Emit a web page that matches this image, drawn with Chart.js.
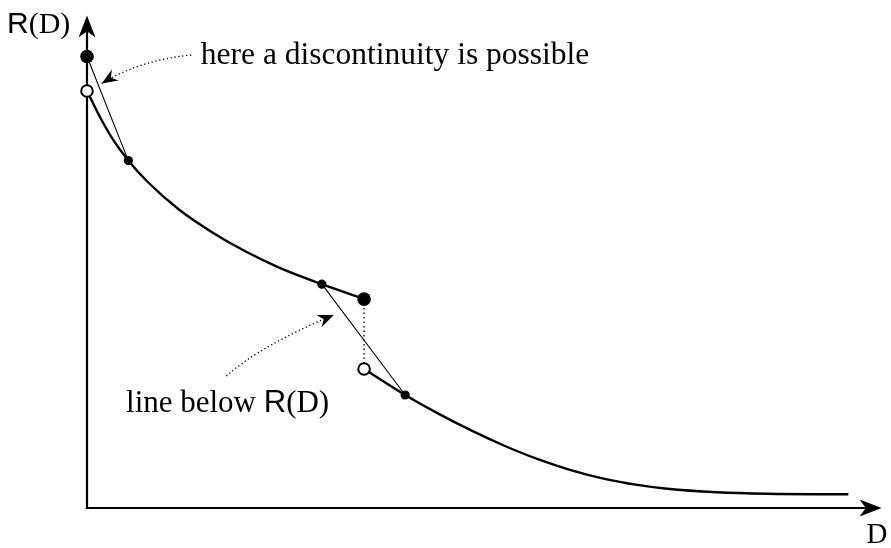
<!DOCTYPE html>
<html>
<head>
<meta charset="utf-8">
<script src="https://cdn.jsdelivr.net/npm/chart.js@4/dist/chart.umd.min.js"></script>
<style>
  html, body { margin: 0; padding: 0; background: #fff; }
  #wrap { width: 891px; height: 548px; position: relative; }
</style>
</head>
<body>
<div id="wrap"><canvas id="rd"></canvas></div>
<script>
// Rate-distortion curve, branch before the jump
const upperD = [0, 0.1625, 0.325, 0.519, 0.75, 1.1625, 1.575, 2.0, 2.4125, 2.95, 3.48];
const upperR = [8.34, 7.82, 7.372, 6.948, 6.54, 5.96, 5.512, 5.124, 4.808, 4.476, 4.178];
// Branch after the jump
const lowerD = [3.48, 3.996, 4.4125, 4.825, 5.25, 5.6625, 6.075, 6.5, 6.9125, 7.2875, 7.9125, 8.5375, 9.5625];
const lowerR = [2.78, 2.26, 1.888, 1.552, 1.24, 0.976, 0.758, 0.584, 0.462, 0.384, 0.314, 0.284, 0.274];

// Marked points
const bigDotD = [0, 3.48];
const bigDotR = [9.03, 4.178];
const smallDotD = [0.519, 2.95, 3.996];
const smallDotR = [6.948, 4.476, 2.26];
const openD = [0, 3.48];
const openR = [8.34, 2.78];

// Thin chords lying below R(D)
const chordFirstD = [0, 0.519];
const chordFirstR = [9.03, 6.948];
const chordSecondD = [2.95, 3.996];
const chordSecondR = [4.476, 2.26];

// Dotted drop at the jump
const jumpD = [3.48, 3.48];
const jumpR = [4.178, 2.78];

// Axis extents (arrow tips)
const axisMaxD = 9.98;
const axisMaxR = 9.85;

const pts = (xs, ys) => xs.map((x, i) => ({ x, y: ys[i] }));

const SERIF = '"Liberation Serif", "DejaVu Serif", serif';
const SANS = '"Liberation Sans", "DejaVu Sans", sans-serif';

// Annotations: text runs placed in data coordinates, with a dotted curved arrow
const notes = [
  {
    runs: [{ t: 'here a discontinuity is possible', f: SERIF }],
    size: 31.5,
    at: [1.43, 8.89],
    from: [1.31, 9.06], ctrl: [0.66, 8.96], to: [0.184, 8.49]
  },
  {
    runs: [{ t: 'line below ', f: SERIF }, { t: 'R', f: SANS }, { t: '(D)', f: SERIF }],
    size: 31,
    at: [0.49, 1.93],
    from: [1.75, 2.64], ctrl: [2.19, 3.26], to: [3.10, 3.86]
  }
];

function stealth(ctx, tx, ty, dx, dy, L, W, inset) {
  const n = Math.hypot(dx, dy); dx /= n; dy /= n;
  const px = -dy, py = dx;
  ctx.beginPath();
  ctx.moveTo(tx, ty);
  ctx.lineTo(tx - L * dx + W * px, ty - L * dy + W * py);
  ctx.lineTo(tx - inset * L * dx, ty - inset * L * dy);
  ctx.lineTo(tx - L * dx - W * px, ty - L * dy - W * py);
  ctx.closePath();
  ctx.fill();
}

function drawRuns(ctx, runs, x, y, size) {
  ctx.textBaseline = 'alphabetic';
  ctx.textAlign = 'left';
  for (const r of runs) {
    ctx.font = size + 'px ' + r.f;
    ctx.fillText(r.t, x, y);
    x += ctx.measureText(r.t).width;
  }
}

const axesPlugin = {
  id: 'axesArrows',
  beforeDatasetsDraw(chart) {
    const { ctx, scales: { x, y } } = chart;
    const ox = x.getPixelForValue(0), oy = y.getPixelForValue(0);
    const tipX = x.getPixelForValue(axisMaxD), tipY = y.getPixelForValue(axisMaxR);
    ctx.save();
    ctx.strokeStyle = '#000';
    ctx.fillStyle = '#000';
    ctx.lineWidth = 2.2;
    ctx.lineCap = 'square';
    ctx.beginPath();
    ctx.moveTo(ox, tipY + 14);
    ctx.lineTo(ox, oy);
    ctx.lineTo(tipX - 14, oy);
    ctx.stroke();
    stealth(ctx, ox, tipY, 0, -1, 22, 8.5, 0.72);
    stealth(ctx, tipX, oy, 1, 0, 22, 8.5, 0.72);
    ctx.restore();
  },
  afterDraw(chart) {
    const { ctx, scales: { x, y } } = chart;
    const ox = x.getPixelForValue(0), oy = y.getPixelForValue(0);
    const tipX = x.getPixelForValue(axisMaxD), tipY = y.getPixelForValue(axisMaxR);
    ctx.save();
    ctx.fillStyle = '#000';
    // axis titles
    drawRuns(ctx, [{ t: 'R', f: SANS }, { t: '(D)', f: SERIF }], ox - 80, tipY + 17, 30);
    drawRuns(ctx, [{ t: 'D', f: SERIF }], tipX - 15, oy + 35, 29);

    // annotations
    for (const nt of notes) {
      const p0 = [x.getPixelForValue(nt.from[0]), y.getPixelForValue(nt.from[1])];
      const c = [x.getPixelForValue(nt.ctrl[0]), y.getPixelForValue(nt.ctrl[1])];
      const p2 = [x.getPixelForValue(nt.to[0]), y.getPixelForValue(nt.to[1])];
      ctx.save();
      ctx.lineWidth = 1.3;
      ctx.setLineDash([1.3, 2.6]);
      ctx.beginPath();
      ctx.moveTo(p0[0], p0[1]);
      ctx.quadraticCurveTo(c[0], c[1], p2[0], p2[1]);
      ctx.stroke();
      ctx.restore();
      stealth(ctx, p2[0], p2[1], p2[0] - c[0], p2[1] - c[1], 16, 6.5, 0.68);
      drawRuns(ctx, nt.runs, x.getPixelForValue(nt.at[0]), y.getPixelForValue(nt.at[1]), nt.size);
    }
    ctx.restore();
  }
};

const lineBase = { showLine: true, pointRadius: 0, borderColor: '#000', clip: false, fill: false };
const dotBase = { showLine: false, borderColor: '#000', pointStyle: 'circle', clip: false, pointHoverRadius: 0 };

new Chart(document.getElementById('rd'), {
  type: 'scatter',
  data: {
    datasets: [
      { ...dotBase, data: pts(bigDotD, bigDotR), pointRadius: 6.8, backgroundColor: '#000', pointBorderWidth: 0, order: 0 },
      { ...dotBase, data: pts(smallDotD, smallDotR), pointRadius: 4.6, backgroundColor: '#000', pointBorderWidth: 0, order: 0 },
      { ...dotBase, data: pts(openD, openR), pointRadius: 5.8, backgroundColor: '#fff', pointBorderWidth: 2, order: 0 },
      { ...lineBase, data: pts(upperD, upperR), borderWidth: 2.4, cubicInterpolationMode: 'monotone', order: 2 },
      { ...lineBase, data: pts(lowerD, lowerR), borderWidth: 2.4, cubicInterpolationMode: 'monotone', order: 2 },
      { ...lineBase, data: pts(chordFirstD, chordFirstR), borderWidth: 1.1, order: 3 },
      { ...lineBase, data: pts(chordSecondD, chordSecondR), borderWidth: 1.1, order: 3 },
      { ...lineBase, data: pts(jumpD, jumpR), borderWidth: 1.3, borderDash: [1.3, 3.2], order: 3 }
    ]
  },
  options: {
    responsive: true,
    maintainAspectRatio: false,
    animation: false,
    events: [],
    layout: { padding: { left: 87, right: 4, top: 8, bottom: 40 } },
    scales: {
      x: { type: 'linear', min: 0, max: 10, display: false },
      y: { type: 'linear', min: 0, max: 10, display: false }
    },
    plugins: { legend: { display: false }, tooltip: { enabled: false } }
  },
  plugins: [axesPlugin]
});
</script>
</body>
</html>
